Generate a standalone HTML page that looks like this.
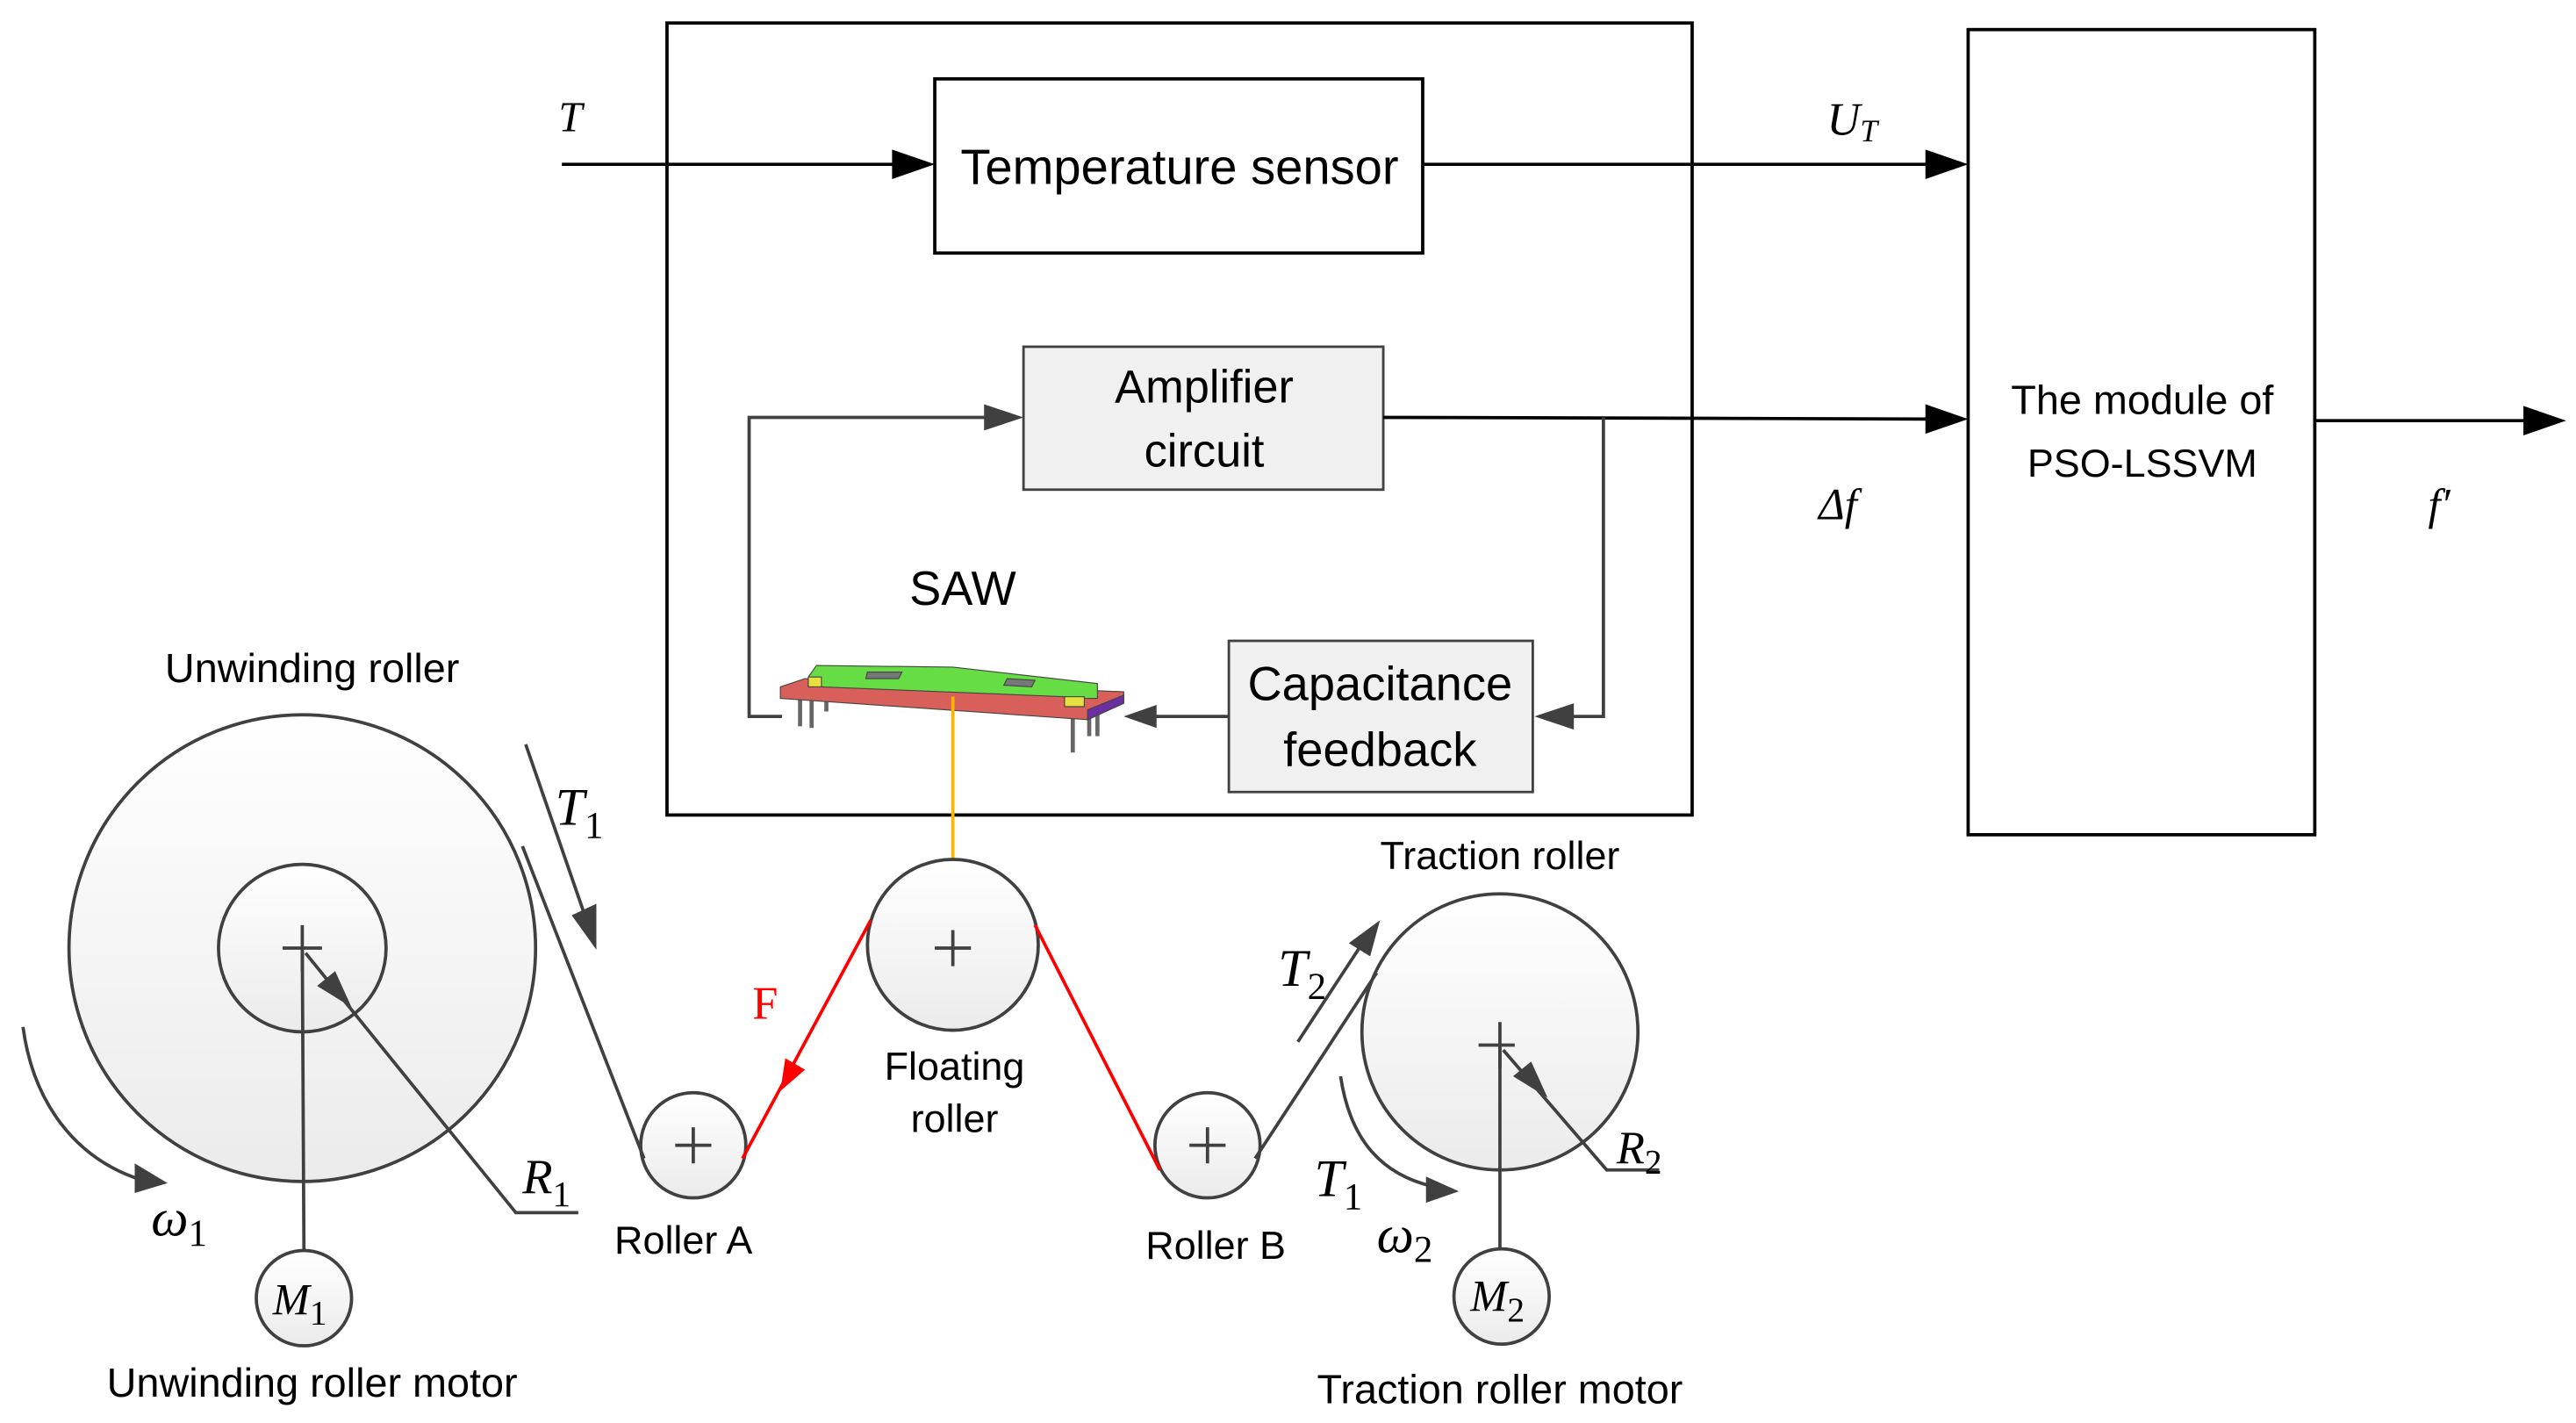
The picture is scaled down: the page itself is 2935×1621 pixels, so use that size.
<!DOCTYPE html>
<html><head><meta charset="utf-8"><style>
html,body{margin:0;padding:0;background:#fff;}
svg{display:block;}
.lbl{font-family:"Liberation Sans",sans-serif;fill:#000;}
.m{font-family:"Liberation Serif",serif;font-style:italic;fill:#000;}
</style></head><body>
<svg width="2935" height="1621" viewBox="0 0 1568 866" xmlns="http://www.w3.org/2000/svg">
<defs>
<linearGradient id="g" x1="0" y1="0" x2="0" y2="1"><stop offset="0" stop-color="#ffffff"/><stop offset="1" stop-color="#ebebeb"/></linearGradient>
</defs>
<g fill="none" stroke="#000" stroke-width="2">
<rect x="406" y="14" width="624" height="482"/>
<rect x="569" y="48" width="297" height="106"/>
<rect x="1198" y="18" width="211" height="490"/>
</g>
<rect x="623" y="211" width="219" height="87" fill="#f0f0f0" stroke="#404040" stroke-width="1.5"/>
<rect x="748" y="390" width="185" height="92" fill="#f0f0f0" stroke="#404040" stroke-width="1.5"/>
<g stroke="#000" stroke-width="2">
<line x1="342" y1="100" x2="548" y2="100"/>
<line x1="866" y1="100" x2="1176" y2="100"/>
<line x1="842" y1="254" x2="1176" y2="255"/>
<line x1="1409" y1="256" x2="1540" y2="256"/>
</g>
<g fill="#000">
<path d="M569,100 L543,91 L543,109z"/>
<path d="M1198,100 L1172,91 L1172,109z"/>
<path d="M1198,255 L1172,246 L1172,264z"/>
<path d="M1562,256 L1536,247 L1536,265z"/>
</g>
<g stroke="#404040" stroke-width="2" fill="none">
<polyline points="976,254 976,436 955,436"/>
<line x1="748" y1="436" x2="700" y2="436"/>
<polyline points="476,436 456,436 456,254 603,254"/>
</g>
<g fill="#404040">
<path d="M934,436 L958,428 L958,444z"/>
<path d="M684,436 L704,429 L704,443z"/>
<path d="M623,254 L599,246 L599,262z"/>
</g>
<!-- SAW chip -->
<g stroke="#444" stroke-width="0.6">
<line x1="487" y1="422" x2="487" y2="442" stroke="#666" stroke-width="2.5"/>
<line x1="494" y1="422" x2="494" y2="443" stroke="#666" stroke-width="2.5"/>
<line x1="503" y1="420" x2="503" y2="433" stroke="#666" stroke-width="2.5"/>
<line x1="653" y1="434" x2="653" y2="458" stroke="#666" stroke-width="2.5"/>
<line x1="663" y1="432" x2="663" y2="448" stroke="#666" stroke-width="2.5"/>
<line x1="668" y1="432" x2="668" y2="448" stroke="#666" stroke-width="2.5"/>
<path d="M475,418 L490,413 L684,421 L684,428 L662,438 L475,425z" fill="#d9605a"/>
<path d="M662,432 L684,423 L684,428 L662,438z" fill="#6a2fa0"/>
<path d="M492,412 L497,405 L580,406 L668,416 L668,425 L660,425 L660,430 L648,430 L648,424 L500,418 L492,418z" fill="#66dd44"/>
<rect x="492" y="412" width="8" height="6" fill="#e8e040"/>
<rect x="648" y="424" width="12" height="6" fill="#e8e040"/>
<path d="M528,409 L549,409 L547,413 L527,413z" fill="#777"/>
<path d="M613,413 L630,414 L628,418 L611,417z" fill="#777"/>
</g>
<line x1="580" y1="424" x2="580" y2="575" stroke="#ffb400" stroke-width="2"/>
<!-- rollers -->
<g stroke="#404040" stroke-width="2" fill="url(#g)">
<circle cx="184" cy="577" r="142"/>
<circle cx="184" cy="577" r="51"/>
<circle cx="422" cy="697" r="32"/>
<circle cx="580" cy="575" r="52"/>
<circle cx="735" cy="697" r="32"/>
<circle cx="913" cy="628" r="84"/>
<circle cx="185" cy="790" r="29"/>
<circle cx="914" cy="789" r="29"/>
</g>
<g stroke="#404040" stroke-width="2" fill="none">
<path d="M172,577 H196 M184,563 V591"/>
<path d="M411,697 H433 M422,686 V708"/>
<path d="M569,577 H591 M580,566 V588"/>
<path d="M724,697 H746 M735,686 V708"/>
<path d="M900,636 H922 M913,622 V650"/>
<line x1="184" y1="577" x2="185" y2="761"/>
<line x1="913" y1="636" x2="913" y2="760"/>
<polyline points="186,580 314,738 352,738"/>
<polyline points="915,639 978,712 1010,712"/>
<path d="M318,515 L392,705"/>
<path d="M764,705 L838,592"/>
<line x1="320" y1="453" x2="357" y2="560"/>
<line x1="790" y1="634" x2="828" y2="576"/>
<path d="M14,625 C20,670 45,705 86,718"/>
<path d="M816,655 C822,695 842,715 872,722"/>
</g>
<g fill="#404040">
<path d="M363,578 L348,557 L363,550z"/>
<path d="M840,560 L821,574 L834,582z"/>
<path d="M214,613 L193,600 L204,591z"/>
<path d="M942,668 L921,655 L932,646z"/>
<path d="M102,720 L82,708 L82,726z"/>
<path d="M888,725 L868,716 L868,732z"/>
</g>
<g stroke="#f00" stroke-width="2" fill="none">
<line x1="452" y1="705" x2="530" y2="560"/>
<line x1="630" y1="563" x2="706" y2="712"/>
</g>
<path d="M475,664 L478,644 L490,651z" fill="#f00"/>
<!-- text -->
<text class="lbl" x="718" y="112" font-size="30" text-anchor="middle">Temperature sensor</text>
<text class="lbl" x="733" y="245" font-size="28" text-anchor="middle">Amplifier</text>
<text class="lbl" x="733" y="284" font-size="28" text-anchor="middle">circuit</text>
<text class="lbl" x="840" y="426" font-size="29" text-anchor="middle">Capacitance</text>
<text class="lbl" x="840" y="466" font-size="29" text-anchor="middle">feedback</text>
<text class="lbl" x="1304" y="252" font-size="25" text-anchor="middle">The module of</text>
<text class="lbl" x="1304" y="290" font-size="24" text-anchor="middle">PSO-LSSVM</text>
<text class="lbl" x="586" y="368" font-size="29" text-anchor="middle">SAW</text>
<text class="lbl" x="190" y="415" font-size="25" text-anchor="middle">Unwinding roller</text>
<text class="lbl" x="190" y="850" font-size="25" text-anchor="middle">Unwinding roller motor</text>
<text class="lbl" x="416" y="763" font-size="24" text-anchor="middle">Roller A</text>
<text class="lbl" x="740" y="766" font-size="24" text-anchor="middle">Roller B</text>
<text class="lbl" x="581" y="657" font-size="24" text-anchor="middle">Floating</text>
<text class="lbl" x="581" y="689" font-size="24" text-anchor="middle">roller</text>
<text class="lbl" x="913" y="529" font-size="24" text-anchor="middle">Traction roller</text>
<text class="lbl" x="913" y="854" font-size="25" text-anchor="middle">Traction roller motor</text>
<text class="m" x="340" y="80" font-size="26">T</text>
<text class="m" x="1112" y="82" font-size="28">U<tspan font-size="19" dy="4">T</tspan></text>
<text class="m" x="1107" y="316" font-size="27">Δf</text>
<text class="m" x="1478" y="316" font-size="27">f′</text>
<text x="458" y="620" font-size="28" fill="#f00" font-family="Liberation Serif,serif">F</text>
<text class="m" x="338" y="502" font-size="32">T<tspan font-style="normal" font-size="23" dy="8">1</tspan></text>
<text class="m" x="318" y="726" font-size="30">R<tspan font-style="normal" font-size="22" dy="8">1</tspan></text>
<text class="m" x="92" y="752" font-size="32">ω<tspan font-style="normal" font-size="23" dy="6">1</tspan></text>
<text class="m" x="166" y="800" font-size="27">M<tspan font-style="normal" font-size="21" dy="6">1</tspan></text>
<text class="m" x="778" y="600" font-size="32">T<tspan font-style="normal" font-size="23" dy="8">2</tspan></text>
<text class="m" x="800" y="728" font-size="32">T<tspan font-style="normal" font-size="23" dy="8">1</tspan></text>
<text class="m" x="838" y="762" font-size="32">ω<tspan font-style="normal" font-size="23" dy="6">2</tspan></text>
<text class="m" x="984" y="708" font-size="28">R<tspan font-style="normal" font-size="21" dy="6">2</tspan></text>
<text class="m" x="895" y="798" font-size="27">M<tspan font-style="normal" font-size="21" dy="6">2</tspan></text>
</svg>
</body></html>
